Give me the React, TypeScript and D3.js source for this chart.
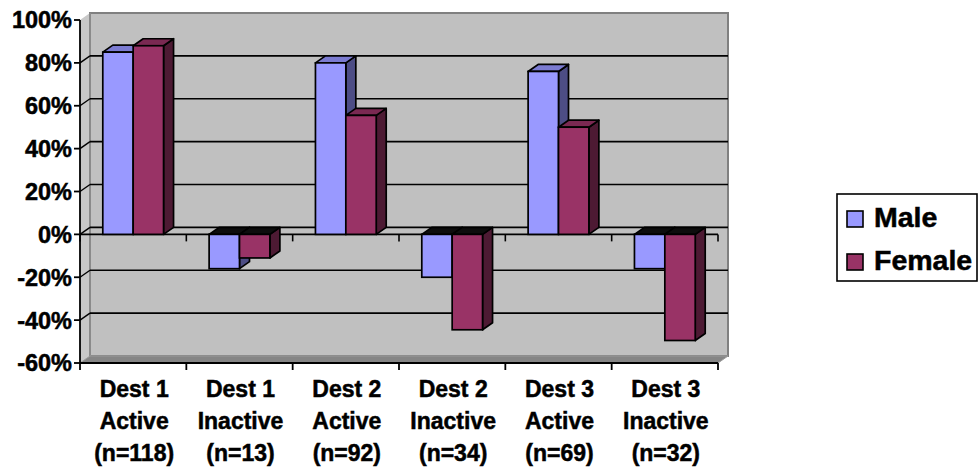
import React from "react";
import * as d3 from "d3";

// Share of each group, by destination and activity status
const categories = [
  ["Dest 1", "Active", "(n=118)"],
  ["Dest 1", "Inactive", "(n=13)"],
  ["Dest 2", "Active", "(n=92)"],
  ["Dest 2", "Inactive", "(n=34)"],
  ["Dest 3", "Active", "(n=69)"],
  ["Dest 3", "Inactive", "(n=32)"],
];
const maleValues = [0.85, -0.16, 0.8, -0.2, 0.76, -0.16];
const femaleValues = [0.88, -0.11, 0.555, -0.445, 0.5, -0.495];
const yTicks = [-0.6, -0.4, -0.2, 0, 0.2, 0.4, 0.6, 0.8, 1];
const seriesNames = ["Male", "Female"];

const W = 978;
const H = 468;
const FONT = "'Liberation Sans', Arial, sans-serif";

// 3-D depth offset of the walls and columns
const DX = 10;
const DY = -7;

const palette = {
  Male: { front: "#9999ff", top: "#7b7bd1", side: "#4d4d85" },
  Female: { front: "#993366", top: "#7a2952", side: "#4d1a33" },
};

const fmt = (v: number) => `${Math.round(v * 100)}%`;

// heavier label text
const textStyle = { stroke: "#000", strokeWidth: 0.5, paintOrder: "stroke" as const };

export default function App() {
  const left = 80;
  const right = 718;
  const y = d3.scaleLinear().domain([-0.6, 1]).range([363, 20]);
  const x = d3
    .scaleBand<number>()
    .domain(d3.range(categories.length))
    .range([left, right])
    .padding(0);
  const catW = x.bandwidth();
  const barW = catW / 3.5;
  const yTop = y(1);
  const yBot = y(-0.6);
  const y0 = y(0);

  const stroke = "#000";
  const sw = 1.7;

  const bar = (i: number, s: number, v: number) => {
    const name = seriesNames[s] as "Male" | "Female";
    const c = palette[name];
    const cx = (x(i) as number) + catW / 2;
    const x0 = cx - barW + s * barW;
    const x1 = x0 + barW;
    const yv = y(v);
    const top = Math.min(yv, y0);
    const bottom = Math.max(yv, y0);
    const pts = (arr: number[][]) => arr.map((p) => p.join(",")).join(" ");
    return (
      <g key={`${i}-${s}`}>
        <polygon
          points={pts([
            [x1, top],
            [x1 + DX, top + DY],
            [x1 + DX, bottom + DY],
            [x1, bottom],
          ])}
          fill={c.side}
          stroke={stroke}
          strokeWidth={sw}
          strokeLinejoin="round"
        />
        <polygon
          points={pts([
            [x0, top],
            [x0 + DX, top + DY],
            [x1 + DX, top + DY],
            [x1, top],
          ])}
          fill={v < 0 ? "#0d0d0d" : c.top}
          stroke={stroke}
          strokeWidth={sw}
          strokeLinejoin="round"
        />
        <rect
          x={x0}
          y={top}
          width={barW}
          height={bottom - top}
          fill={c.front}
          stroke={stroke}
          strokeWidth={sw}
        />
      </g>
    );
  };

  return (
    <svg
      width={W}
      height={H}
      style={{ position: "absolute", left: 0, top: 0, background: "#fff" }}
      fontFamily={FONT}
    >
      {/* side wall */}
      <polygon
        points={`${left},${yTop} ${left + DX},${yTop + DY} ${left + DX},${yBot + DY} ${left},${yBot}`}
        fill="#c8c8c8"
      />
      {/* back wall */}
      <rect
        x={left + DX}
        y={yTop + DY}
        width={right - left}
        height={yBot - yTop}
        fill="#c0c0c0"
        stroke="#808080"
        strokeWidth={2}
      />
      <line
        x1={left + DX}
        x2={left + DX}
        y1={yTop + DY}
        y2={yBot + DY}
        stroke="#8a8a8a"
        strokeWidth={2}
      />
      {/* floor */}
      <polygon
        points={`${left},${yBot} ${right},${yBot} ${right + DX},${yBot + DY} ${left + DX},${yBot + DY}`}
        fill="#858585"
        stroke="#9a9a9a"
        strokeWidth={1}
      />
      {/* gridlines */}
      {yTicks.slice(1, -1).map((t) => (
        <g key={t}>
          <line
            x1={left + DX}
            x2={right + DX}
            y1={y(t) + DY}
            y2={y(t) + DY}
            stroke="#000"
            strokeWidth={1.6}
          />
          <line
            x1={left}
            x2={left + DX}
            y1={y(t)}
            y2={y(t) + DY}
            stroke="#000"
            strokeWidth={1.4}
          />
        </g>
      ))}
      {/* category axis at zero */}
      <line x1={left} x2={right} y1={y0} y2={y0} stroke="#000" strokeWidth={1.6} />
      {d3.range(categories.length + 1).map((i) => {
        const xx = left + i * catW;
        return (
          <line key={i} x1={xx} x2={xx} y1={y0} y2={y0 + 7} stroke="#000" strokeWidth={1.6} />
        );
      })}
      {/* columns */}
      {categories.map((_, i) => (
        <g key={i}>
          {bar(i, 0, maleValues[i])}
          {bar(i, 1, femaleValues[i])}
        </g>
      ))}
      {/* value axis */}
      <line x1={left} x2={left} y1={yTop} y2={yBot} stroke="#000" strokeWidth={1.8} />
      {yTicks.map((t) => (
        <g key={t}>
          <line x1={left - 6} x2={left} y1={y(t)} y2={y(t)} stroke="#000" strokeWidth={1.8} />
          <text
            x={left - 8}
            y={y(t)}
            dy="0.36em"
            textAnchor="end"
            fontSize={23.5}
            fontWeight="bold"
            style={textStyle}
          >
            {fmt(t)}
          </text>
        </g>
      ))}
      {/* bottom edge and category labels */}
      <line x1={left} x2={right} y1={yBot} y2={yBot} stroke="#000" strokeWidth={1.8} />
      {d3.range(categories.length + 1).map((i) => {
        const xx = left + i * catW;
        return (
          <line key={i} x1={xx} x2={xx} y1={yBot} y2={yBot + 7} stroke="#000" strokeWidth={1.8} />
        );
      })}
      {categories.map((lines, i) => (
        <text
          key={i}
          x={(x(i) as number) + catW / 2 + 1}
          y={397}
          textAnchor="middle"
          fontSize={23}
          fontWeight="bold"
          style={textStyle}
        >
          {lines.map((l, k) => (
            <tspan key={k} x={(x(i) as number) + catW / 2 + 1} dy={k === 0 ? 0 : 32}>
              {l}
            </tspan>
          ))}
        </text>
      ))}
      {/* legend */}
      <rect x={837} y={194} width={140} height={87} fill="#fff" stroke="#000" strokeWidth={1.6} />
      {seriesNames.map((n, k) => {
        const c = palette[n as "Male" | "Female"];
        const base = 227 + k * 43;
        return (
          <g key={n}>
            <rect x={847} y={base - 16} width={16} height={16} fill={c.front} stroke="#000" strokeWidth={1.6} />
            <text x={874} y={base} fontSize={28.5} fontWeight="bold" style={textStyle}>
              {n}
            </text>
          </g>
        );
      })}
    </svg>
  );
}
